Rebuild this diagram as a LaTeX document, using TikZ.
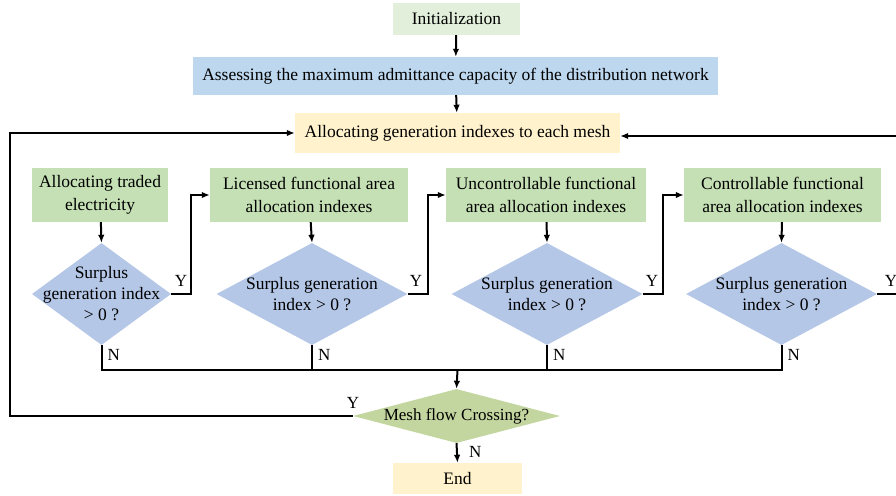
\documentclass[tikz,border=0pt]{standalone}
\usepackage{fontspec}
\setmainfont{Liberation Serif}
\usetikzlibrary{shapes.geometric,arrows.meta,calc}
\definecolor{initg}{HTML}{E2EFDA}
\definecolor{assb}{HTML}{BDD7EE}
\definecolor{yel}{HTML}{FFF2CC}
\definecolor{grn}{HTML}{C5E0B4}
\definecolor{dia}{HTML}{B4C7E7}
\definecolor{mesh}{HTML}{C3D69F}
\tikzset{
  box/.style={rectangle, inner sep=0pt, align=center, font=\fontsize{17.5}{23}\selectfont},
  dec/.style={diamond, aspect=1.87, fill=dia, inner sep=0pt, minimum width=191pt, minimum height=102pt},
  dtext/.style={inner sep=0pt, align=center, font=\fontsize{17.5}{21}\selectfont},
  conn/.style={line width=2pt},
  arr/.style={line width=2pt, -{Latex[length=8pt,width=6.5pt]}},
  lab/.style={font=\fontsize{17}{18}\selectfont, inner sep=0pt}
}
\begin{document}
\begin{tikzpicture}[x=1pt,y=-1pt]
\useasboundingbox (0,0) rectangle (896,495);
\node[box, fill=initg, minimum width=127pt, minimum height=32pt] (init) at (456.5,19) {Initialization};
\node[box, fill=assb, minimum width=525pt, minimum height=38pt] (ass) at (455.5,76) {Assessing the maximum admittance capacity of the distribution network};
\node[box, fill=yel, minimum width=325pt, minimum height=40pt] (alloc) at (457.5,133) {Allocating generation indexes to each mesh};

\node[box, fill=grn, minimum width=136pt, minimum height=54pt] (b1) at (100,195) {Allocating traded\\electricity};
\node[box, fill=grn, minimum width=198pt, minimum height=54pt] (b2) at (309,195) {Licensed functional area\\allocation indexes};
\node[box, fill=grn, minimum width=200pt, minimum height=54pt] (b3) at (546,195) {Uncontrollable functional\\area allocation indexes};
\node[box, fill=grn, minimum width=197pt, minimum height=54pt] (b4) at (782.5,195) {Controllable functional\\area allocation indexes};

\node[dec, aspect=1.36, minimum width=139pt] (d1) at (101.5,294) {};
\node[dec] (d2) at (312,294) {};
\node[dec] (d3) at (547,294) {};
\node[dec] (d4) at (781.5,294) {};
\node[dtext] (t1) at (d1) {Surplus\\generation index\\> 0 ?};
\node[dtext] (t2) at (d2) {Surplus generation\\index > 0 ?};
\node[dtext] (t3) at (d3) {Surplus generation\\index > 0 ?};
\node[dtext] (t4) at (d4) {Surplus generation\\index > 0 ?};

\node[diamond, aspect=3.7, fill=mesh, inner sep=0pt, minimum width=207pt, minimum height=54pt] (m) at (456.5,416) {};
\node[dtext, font=\fontsize{17}{18}\selectfont] (mt) at (m) {Mesh flow Crossing?};
\node[box, fill=yel, minimum width=129pt, minimum height=31pt] (end) at (457.5,478.5) {End};

\coordinate (jn) at (457.5,370);
\coordinate (lc) at (10,416);
\coordinate (lt) at (10,133);
\coordinate (rb) at (900,294);
\coordinate (rt) at (900,136);

\draw[arr] (init) -- (ass);
\draw[arr] (ass) -- (alloc);
\foreach \i in {1,2,3,4} {\draw[arr] (b\i) -- (d\i.north);}
\draw[arr] (d1.east) -- ++(20,0) |- (b2.west);
\draw[arr] (d2.east) -- ++(20,0) |- (b3.west);
\draw[arr] (d3.east) -- ++(20,0) |- (b4.west);
\draw[conn] (d4.east) -- (rb) -- (rt);
\draw[arr] (rt) -- (alloc.east |- rt);
\node[lab] at (181,281) {Y};
\node[lab] at (416,281) {Y};
\node[lab] at (652,281) {Y};
\node[lab] at (891,281) {Y};

\draw[conn] (d1.south) -- (d1.south |- jn) -- (d4.south |- jn) -- (d4.south);
\draw[conn] (d2.south) -- (d2.south |- jn);
\draw[conn] (d3.south) -- (d3.south |- jn);
\foreach \i in {1,2,3,4} {\node[lab, anchor=west] at ($(d\i.south)+(6,10)$) {N};}
\draw[arr] (jn) -- (m.north);

\draw[arr] (m.west) -- (lc) -- (lt) -- (alloc.west);
\node[lab] at (353,403) {Y};
\draw[arr] (m.south) -- (end.north);
\node[lab, anchor=west] at (469,452) {N};
\end{tikzpicture}
\end{document}
